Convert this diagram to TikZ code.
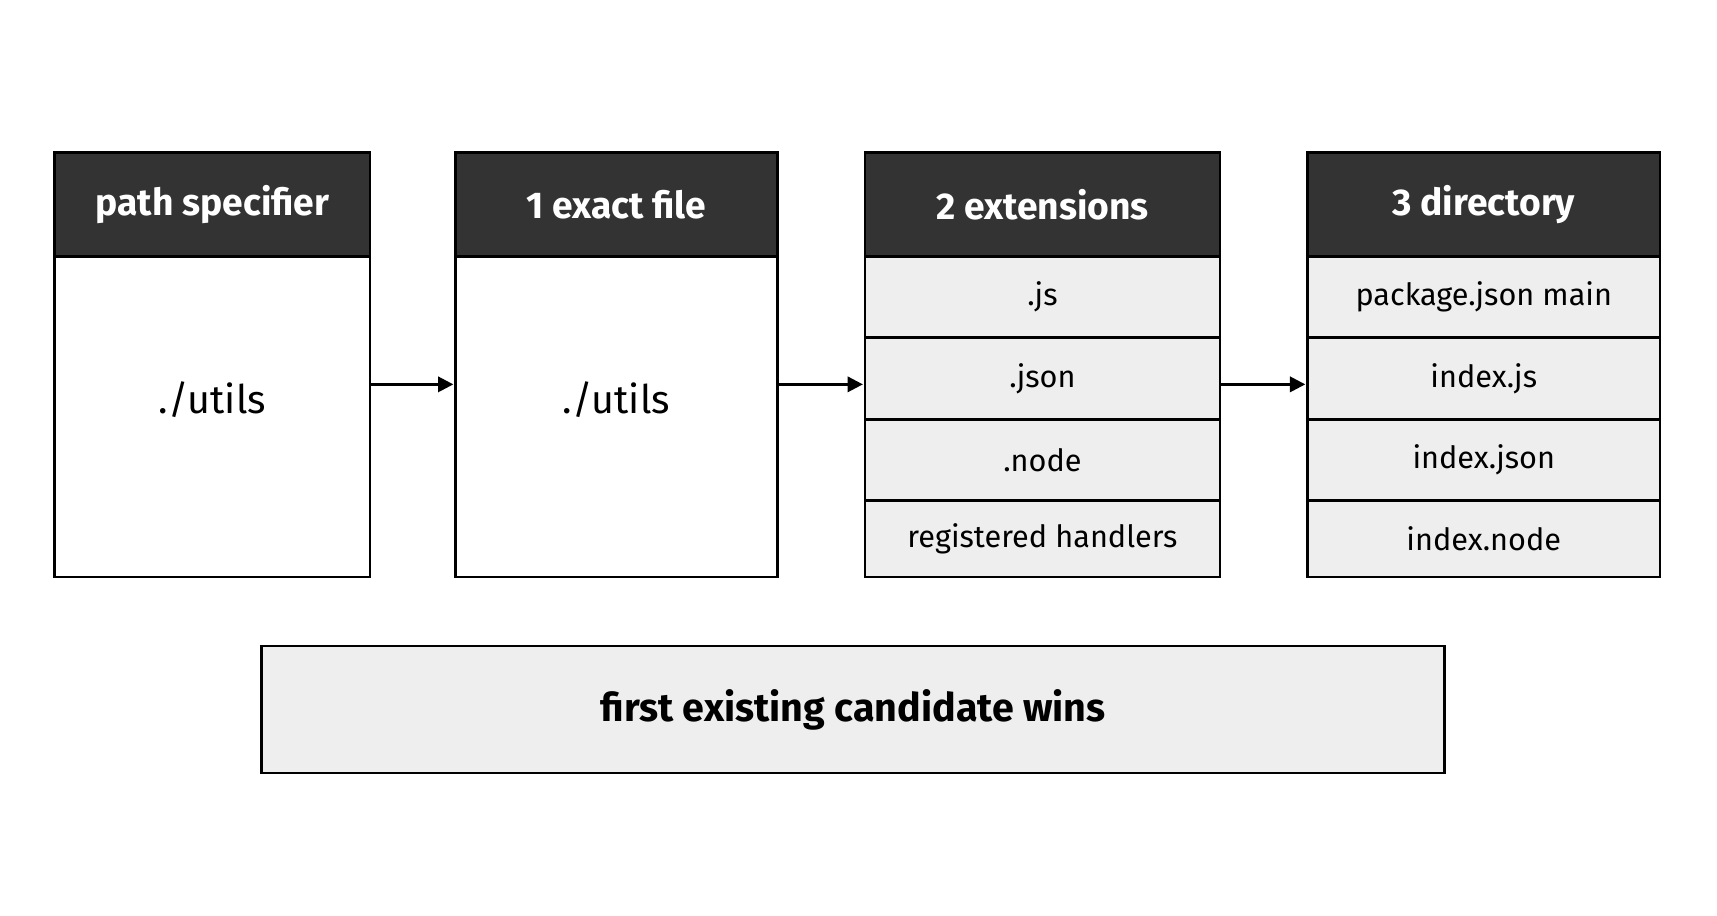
\documentclass[tikz,border=0pt]{standalone}
\usepackage{fontspec}
\setmainfont{Fira Sans}
\usetikzlibrary{arrows.meta}
\definecolor{headgray}{HTML}{333333}
\definecolor{rowgray}{HTML}{EEEEEE}
\tikzset{
  head/.style={draw=black, fill=headgray, line width=1.2pt, text=white, font=\fontsize{17}{20}\selectfont\bfseries},
  body/.style={draw=black, fill=white, line width=1.2pt, font=\fontsize{17}{20}\selectfont},
  row/.style={draw=black, fill=rowgray, line width=1.2pt, font=\fontsize{14}{17}\selectfont},
  link/.style={-{Triangle[length=7pt,width=7pt]}, line width=1.2pt}
}
\begin{document}
\begin{tikzpicture}[x=0.5pt, y=-0.5pt]
  \useasboundingbox (0,0) rectangle (1568,836);
  % Specifier
  \draw[head] (50,139) rectangle (338,234);
  \node[text=white, font=\fontsize{17}{20}\selectfont\bfseries] (h0) at (194,187) {path specifier};
  \draw[body] (50,234) rectangle (338,527);
  \node[font=\fontsize{18}{21}\selectfont] (b0) at (194,365) {./utils};
  \coordinate (o0) at (338,351);
  % Exact file
  \draw[head] (416,139) rectangle (710,234);
  \node[text=white, font=\fontsize{17}{20}\selectfont\bfseries] (h1) at (563,187) {1 exact file};
  \draw[body] (416,234) rectangle (710,527);
  \node[font=\fontsize{18}{21}\selectfont] (b1) at (563,365) {./utils};
  \coordinate (i1) at (414,351);
  \coordinate (o1) at (710,351);
  % Extensions
  \draw[head] (790,139) rectangle (1114,234);
  \node[text=white, font=\fontsize{17}{20}\selectfont\bfseries] (h2) at (952,187) {2 extensions};
  \foreach \ya/\yb/\t in {234/308/.js, 308/383/.json, 383/457/.node, 457/527/registered handlers}
    \draw[row] (790,\ya) rectangle (1114,\yb) node[midway] {\t};
  \coordinate (i2) at (788,351);
  \coordinate (o2) at (1114,351);
  % Directory
  \draw[head] (1194,139) rectangle (1516,234);
  \node[text=white, font=\fontsize{17}{20}\selectfont\bfseries] (h3) at (1355,187) {3 directory};
  \foreach \ya/\yb/\t in {234/308/package.json main, 308/383/index.js, 383/457/index.json, 457/527/index.node}
    \draw[row] (1194,\ya) rectangle (1516,\yb) node[midway] {\t};
  \coordinate (i3) at (1192,351);
  % Arrows
  \draw[link] (o0) -- (i1);
  \draw[link] (o1) -- (i2);
  \draw[link] (o2) -- (i3);
  % Result
  \node[row, minimum width=540pt, minimum height=58pt, font=\fontsize{18}{21}\selectfont\bfseries] (win) at (779,648) {first existing candidate wins};
\end{tikzpicture}
\end{document}
